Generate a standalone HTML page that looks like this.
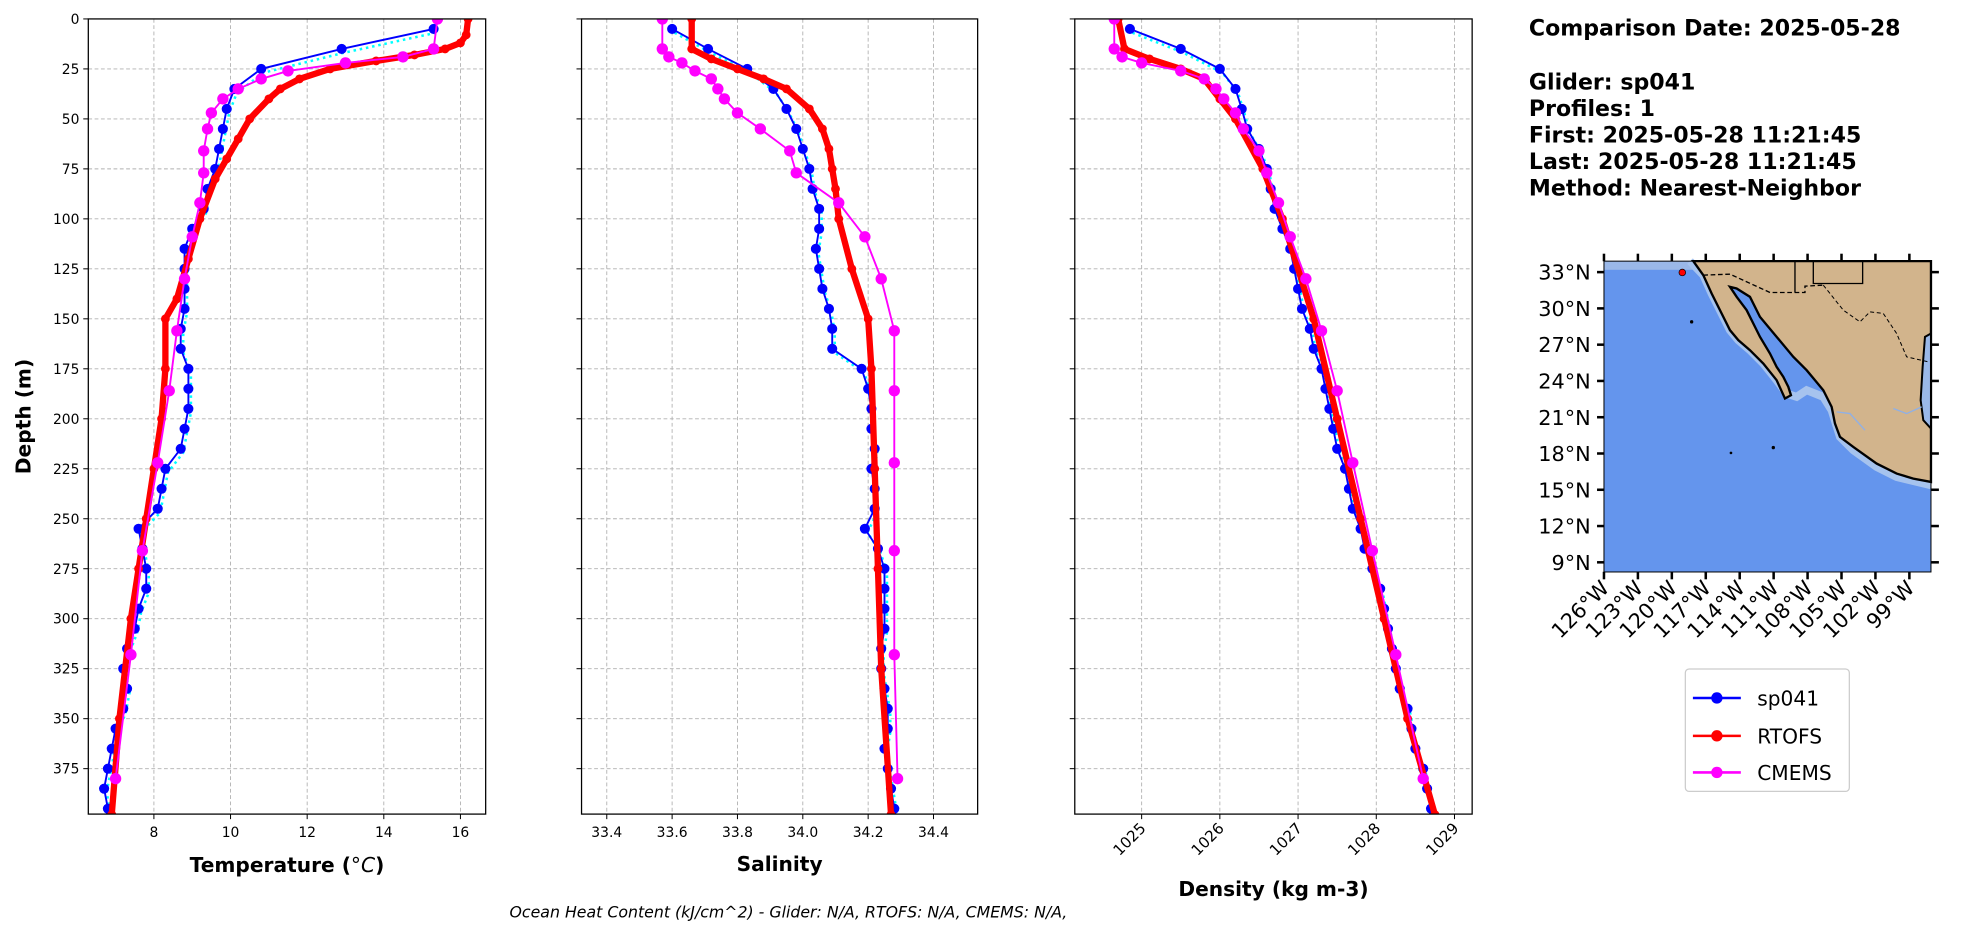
<!DOCTYPE html>
<html><head><meta charset="utf-8"><style>
html,body{margin:0;padding:0;background:#fff;}
svg{display:block;font-family:"DejaVu Sans","Liberation Sans",sans-serif;}
</style></head><body>
<svg id="s" width="1978" height="934" viewBox="0 0 1568 740" preserveAspectRatio="none" xmlns="http://www.w3.org/2000/svg">
<rect width="1568" height="740" fill="#fff"/>
<g id="plots"></g>
<g font-weight="bold" font-size="17.5" fill="#000">
<text x="1212" y="28">Comparison Date: 2025-05-28</text>
<text x="1212" y="71">Glider: sp041</text>
<text x="1212" y="92">Profiles: 1</text>
<text x="1212" y="113">First: 2025-05-28 11:21:45</text>
<text x="1212" y="134">Last: 2025-05-28 11:21:45</text>
<text x="1212" y="155">Method: Nearest-Neighbor</text>
</g>
<g transform="translate(1212.84,198.18) scale(0.26424)">
<rect x="222" y="33" width="981" height="932" fill="#6495ED"/>
<rect x="222" y="33" width="270" height="26" fill="#9ab8e8"/>
<path d="M480,33 L520,75 L545,130 L575,190 L600,240 L625,270 L660,300 L700,340 L740,390 L770,430 L800,440 L830,420 L880,440 L905,480 L930,560 L970,600 L1040,650 L1100,680 L1203,705" fill="none" stroke="#a6c3ee" stroke-width="24"/>
<path d="M490,33 L520,75 L545,130 L575,190 L600,240 L625,270 L660,300 L700,340 L740,390 L765,445 L783,435 L775,410 L760,380 L740,350 L720,310 L690,260 L670,220 L650,180 L620,140 L600,110 L620,115 L660,140 L690,200 L740,260 L790,320 L830,360 L880,420 L905,470 L915,520 L930,560 L970,590 L1040,640 L1100,670 L1150,685 L1203,695 L1203,33 Z" fill="#D2B48C" stroke="#000" stroke-width="7"/>
<path d="M1203,250 L1185,260 L1178,350 L1172,450 L1180,510 L1203,535 Z" fill="#9ab8e8" stroke="#000" stroke-width="6"/>
<path d="M520,75 L600,72 L720,127 L825,127 L825,108 L880,105" fill="none" stroke="#000" stroke-width="4" stroke-dasharray="14,8"/>
<path d="M795,33 L795,127 M850,33 L850,100 L998,100 L998,33" fill="none" stroke="#000" stroke-width="4"/>
<path d="M880,105 L940,180 L990,215 L1020,185 L1060,190 L1100,250 L1130,320 L1195,335" fill="none" stroke="#000" stroke-width="3" stroke-dasharray="12,8"/>
<path d="M920,485 L960,490 L1005,540 M1090,475 L1130,490 L1175,470" fill="none" stroke="#8fb0e6" stroke-width="4"/>
<circle cx="485" cy="215" r="5" fill="#000"/><circle cx="603" cy="608" r="4" fill="#000"/><circle cx="730" cy="592" r="5" fill="#000"/>
<circle cx="457" cy="67" r="10" fill="#f00" stroke="#000" stroke-width="2"/>
<rect x="222" y="33" width="981" height="932" fill="none" stroke="#000" stroke-width="3"/>
</g>
<g id="map"></g>
<rect x="1336" y="530" width="130" height="97" rx="3" fill="#fff" stroke="#ccc"/>
<g font-size="16" fill="#000">
<line x1="1342" y1="553" x2="1380" y2="553" stroke="#00f" stroke-width="2"/><circle cx="1361" cy="553" r="4.5" fill="#00f"/><text x="1393" y="559">sp041</text>
<line x1="1342" y1="583" x2="1380" y2="583" stroke="#f00" stroke-width="2"/><circle cx="1361" cy="583" r="4.5" fill="#f00"/><text x="1393" y="589">RTOFS</text>
<line x1="1342" y1="612" x2="1380" y2="612" stroke="#f0f" stroke-width="2"/><circle cx="1361" cy="612" r="4.5" fill="#f0f"/><text x="1393" y="618">CMEMS</text>
</g>
<text x="625" y="727" text-anchor="middle" font-size="12.5" font-style="italic">Ocean Heat Content (kJ/cm^2) - Glider: N/A,  RTOFS: N/A,  CMEMS: N/A,</text>
</svg>
<script>
const NS="http://www.w3.org/2000/svg";
const P=document.getElementById('plots');
function el(t,a,txt){const e=document.createElementNS(NS,t);for(const k in a)e.setAttribute(k,a[k]);if(txt!==undefined)e.textContent=txt;P.appendChild(e);return e;}
const Y0=15,YS=1.584,YB=645;
const dy=d=>Y0+d*YS;
const gd=[5,15,25,35,45,55,65,75,85,95,105,115,125,135,145,155,165,175,185,195,205,215,225,235,245,255,265,275,285,295,305,315,325,335,345,355,365,375,385,395];
const cd=[0,15,19,22,26,30,35,40,47,55,66,77,92,109,130,156,186,222,266,318,380];
const axes=[
 {x0:70,x1:385,v0:8,p0:122,sc:30.375,ticks:[8,10,12,14,16],fmt:v=>v,label:'Temperature (°C)',rot:false,
  g:[15.3,12.9,10.8,10.1,9.9,9.8,9.7,9.6,9.4,9.3,9.0,8.8,8.8,8.8,8.8,8.7,8.7,8.9,8.9,8.9,8.8,8.7,8.3,8.2,8.1,7.6,7.7,7.8,7.8,7.6,7.5,7.3,7.2,7.3,7.2,7.0,6.9,6.8,6.7,6.8],
  r:[[0,16.2],[8,16.15],[12,16.0],[15,15.6],[18,14.8],[21,13.8],[25,12.6],[30,11.8],[35,11.3],[40,11],[50,10.5],[60,10.2],[70,9.9],[80,9.6],[100,9.2],[120,8.9],[140,8.6],[150,8.3],[175,8.3],[200,8.2],[225,8.0],[250,7.8],[275,7.6],[300,7.4],[350,7.1],[398,6.9]],
  c:[15.4,15.3,14.5,13,11.5,10.8,10.2,9.8,9.5,9.4,9.3,9.3,9.2,9.0,8.8,8.6,8.4,8.1,7.7,7.4,7.0]},
 {x0:461,x1:775,v0:33.4,p0:481,sc:259,ticks:[33.4,33.6,33.8,34.0,34.2,34.4],fmt:v=>v.toFixed(1),label:'Salinity',rot:false,
  g:[33.6,33.71,33.83,33.91,33.95,33.98,34.0,34.02,34.03,34.05,34.05,34.04,34.05,34.06,34.08,34.09,34.09,34.18,34.2,34.21,34.21,34.22,34.21,34.22,34.22,34.19,34.23,34.25,34.25,34.25,34.25,34.24,34.24,34.25,34.26,34.26,34.25,34.26,34.27,34.28],
  r:[[0,33.66],[15,33.66],[20,33.72],[25,33.8],[30,33.88],[35,33.95],[45,34.02],[55,34.06],[65,34.08],[75,34.09],[85,34.1],[100,34.11],[125,34.15],[150,34.2],[175,34.21],[225,34.22],[275,34.23],[325,34.24],[398,34.27]],
  c:[33.57,33.57,33.59,33.63,33.67,33.72,33.74,33.76,33.8,33.87,33.96,33.98,34.11,34.19,34.24,34.28,34.28,34.28,34.28,34.28,34.29]},
 {x0:852,x1:1167,v0:1025,p0:905,sc:62,ticks:[1025,1026,1027,1028,1029],fmt:v=>v,label:'Density (kg m-3)',rot:true,
  g:[1024.85,1025.5,1026.0,1026.2,1026.28,1026.35,1026.5,1026.6,1026.65,1026.7,1026.8,1026.9,1026.95,1027.0,1027.05,1027.15,1027.2,1027.3,1027.35,1027.4,1027.45,1027.5,1027.6,1027.65,1027.7,1027.8,1027.85,1027.95,1028.05,1028.1,1028.15,1028.2,1028.25,1028.3,1028.4,1028.45,1028.5,1028.6,1028.65,1028.7],
  r:[[0,1024.7],[15,1024.78],[20,1025.1],[25,1025.5],[30,1025.8],[40,1026.0],[50,1026.2],[75,1026.55],[100,1026.8],[150,1027.2],[200,1027.5],[250,1027.8],[300,1028.1],[350,1028.4],[398,1028.75]],
  c:[1024.65,1024.65,1024.75,1025.0,1025.5,1025.8,1025.95,1026.05,1026.2,1026.3,1026.5,1026.6,1026.75,1026.9,1027.1,1027.3,1027.5,1027.7,1027.95,1028.25,1028.6]}
];
axes.forEach((a,i)=>{
 const X=v=>a.p0+(v-a.v0)*a.sc;
 el('defs',{}).innerHTML=`<clipPath id="c${i}"><rect x="${a.x0}" y="${Y0}" width="${a.x1-a.x0}" height="${YB-Y0}"/></clipPath>`;
 for(let d=0;d<=375;d+=25){el('line',{x1:a.x0,x2:a.x1,y1:dy(d),y2:dy(d),stroke:'#b0b0b0','stroke-width':0.7,'stroke-dasharray':'3,2'});
   el('line',{x1:a.x0-4,x2:a.x0,y1:dy(d),y2:dy(d),stroke:'#000','stroke-width':0.8});
   if(i==0)el('text',{x:a.x0-7,y:dy(d)+4,'text-anchor':'end','font-size':11},d);}
 a.ticks.forEach(t=>{const x=X(t);el('line',{x1:x,x2:x,y1:Y0,y2:YB,stroke:'#b0b0b0','stroke-width':0.7,'stroke-dasharray':'3,2'});
   el('line',{x1:x,x2:x,y1:YB,y2:YB+4,stroke:'#000','stroke-width':0.8});
   if(a.rot)el('text',{x:x+4,y:YB+12,'text-anchor':'end','font-size':12,transform:`rotate(-45 ${x+4} ${YB+12})`},a.fmt(t));
   else el('text',{x:x,y:YB+18,'text-anchor':'middle','font-size':11},a.fmt(t));});
 const g=el('g',{'clip-path':`url(#c${i})`});
 const add=(t,at)=>{const e=document.createElementNS(NS,t);for(const k in at)e.setAttribute(k,at[k]);g.appendChild(e);};
 add('polyline',{points:gd.map((d,j)=>`${X(a.g[j])+2},${dy(d)+3}`).join(' '),fill:'none',stroke:'#0ff','stroke-width':2,'stroke-dasharray':'2,3'});
 add('polyline',{points:gd.map((d,j)=>`${X(a.g[j])},${dy(d)}`).join(' '),fill:'none',stroke:'#00f','stroke-width':1.5});
 gd.forEach((d,j)=>add('circle',{cx:X(a.g[j]),cy:dy(d),r:4,fill:'#00f'}));
 add('polyline',{points:a.r.map(p=>`${X(p[1])},${dy(p[0])}`).join(' '),fill:'none',stroke:'#f00','stroke-width':5,'stroke-linejoin':'round'});
 a.r.forEach(p=>add('circle',{cx:X(p[1]),cy:dy(p[0]),r:3.5,fill:'#f00'}));
 add('polyline',{points:cd.map((d,j)=>`${X(a.c[j])},${dy(d)}`).join(' '),fill:'none',stroke:'#f0f','stroke-width':1.5});
 cd.forEach((d,j)=>add('circle',{cx:X(a.c[j]),cy:dy(d),r:4.5,fill:'#f0f'}));
 el('rect',{x:a.x0,y:Y0,width:a.x1-a.x0,height:YB-Y0,fill:'none',stroke:'#000','stroke-width':1});
 const cx=(a.x0+a.x1)/2;
 if(i==0){const t=el('text',{x:cx,y:691,'text-anchor':'middle','font-size':16,'font-weight':'bold'},'Temperature (');
   const s=document.createElementNS(NS,'tspan');s.setAttribute('font-style','italic');s.setAttribute('font-weight','normal');s.textContent='°C';t.appendChild(s);t.appendChild(document.createTextNode(')'));}
 else el('text',{x:cx,y:i==2?710:690,'text-anchor':'middle','font-size':16,'font-weight':'bold'},a.label);
});
el('text',{x:24,y:330,'text-anchor':'middle','font-size':16,'font-weight':'bold',transform:'rotate(-90 24 330)'},'Depth (m)');
const M=document.getElementById('map');
function me(t,a,txt){const e=document.createElementNS(NS,t);for(const k in a)e.setAttribute(k,a[k]);if(txt!==undefined)e.textContent=txt;M.appendChild(e);}
for(let k=0;k<9;k++){const lat=33-3*k;const y=215.6+(33-lat)*9.58;
 me('line',{x1:1266,x2:1271.5,y1:y,y2:y,stroke:'#000','stroke-width':2});me('line',{x1:1531,x2:1537,y1:y,y2:y,stroke:'#000','stroke-width':2});
 me('text',{x:1261,y:y+6,'text-anchor':'end','font-size':16.5},lat+'°N');}
for(let k=0;k<10;k++){const lon=126-3*k;const x=1271.5+k*26.9;
 me('line',{x1:x,x2:x,y1:453,y2:459,stroke:'#000','stroke-width':2});me('line',{x1:x,x2:x,y1:201,y2:207,stroke:'#000','stroke-width':2});
 me('text',{x:x+5,y:467,'text-anchor':'end','font-size':16.5,transform:`rotate(-45 ${x+5} 467)`},lon+'°W');}
</script>
</body></html>
